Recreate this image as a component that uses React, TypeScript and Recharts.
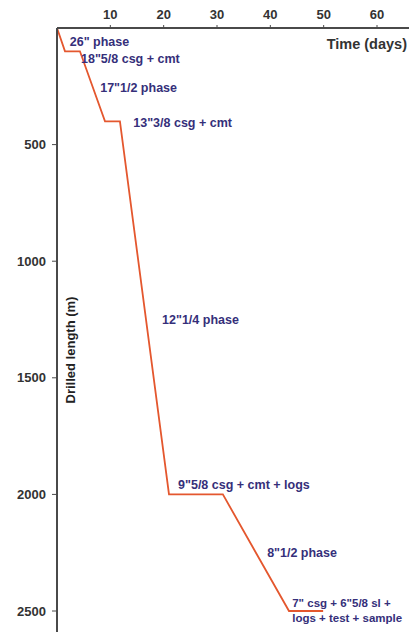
import React from 'react';
import { LineChart, Line, XAxis, YAxis, ReferenceDot } from 'recharts';

// time (days) vs drilled length (m)
const days = [0, 1.5, 4.3, 9.0, 11.8, 21.0, 31.1, 43.5, 49.9];
const depths = [0, 100, 100, 400, 400, 2000, 2000, 2500, 2500];

const dayTicks = [10, 20, 30, 40, 50, 60];
const depthTicks = [500, 1000, 1500, 2000, 2500];

// operation notes, anchored at (day, depth) of the text start
const noteTexts = [
  '26" phase',
  '18"5/8 csg + cmt',
  '17"1/2 phase',
  '13"3/8 csg + cmt',
  '12"1/4 phase',
  '9"5/8 csg + cmt + logs',
  '8"1/2 phase',
  '7" csg + 6"5/8 sl +',
  'logs + test + sample',
];
const noteDays = [2.4, 4.5, 8.1, 14.3, 19.7, 22.7, 39.4, 44.1, 44.1];
const noteDepths = [60, 133, 257, 407, 1252, 1960, 2251, 2466, 2530];

const data = days.map((t, i) => ({ t, d: depths[i] }));

const AXIS = '#4a4a4a';
const NOTE = '#352f7a';
const FONT = '"Liberation Sans", Arial, sans-serif';

const App: React.FC = () => {
  return (
    <div style={{ position: 'fixed', left: 0, top: 0, width: 409, height: 632, background: '#fff' }}>
      <LineChart width={409} height={632} data={data} margin={{ top: 0, right: 0, bottom: 0, left: 0 }}>
        <XAxis
          dataKey="t"
          type="number"
          orientation="top"
          domain={[0, 66]}
          ticks={dayTicks}
          height={28}
          allowDataOverflow
          axisLine={{ stroke: AXIS, strokeWidth: 2 }}
          tickLine={{ stroke: AXIS }}
          tickSize={3}
          tickMargin={6}
          tick={{ fill: '#333', fontSize: 13, fontWeight: 'bold', fontFamily: FONT }}
          label={{
            content: (p: any) => {
              const vb = p.viewBox;
              return (
                <text x={vb.x + vb.width - 2} y={vb.y + vb.height + 21} textAnchor="end"
                  fill="#333" fontSize={14.5} fontWeight="bold" fontFamily={FONT}>
                  Time (days)
                </text>
              );
            },
          }}
        />
        <YAxis
          dataKey="d"
          type="number"
          reversed
          domain={[0, 2590]}
          ticks={depthTicks}
          width={57}
          allowDataOverflow
          axisLine={{ stroke: AXIS, strokeWidth: 2 }}
          tickLine={{ stroke: AXIS }}
          tickSize={5}
          tickMargin={6}
          tick={{ fill: '#333', fontSize: 13, fontWeight: 'bold', fontFamily: FONT }}
          label={{
            content: (p: any) => {
              const vb = p.viewBox;
              const x = vb.x + vb.width + 18;
              const y = 350;
              return (
                <text x={x} y={y} textAnchor="middle" transform={`rotate(-90, ${x}, ${y})`}
                  fill="#222" fontSize={13} fontWeight="bold" fontFamily={FONT}>
                  Drilled length (m)
                </text>
              );
            },
          }}
        />
        <Line
          type="linear"
          dataKey="d"
          stroke="#e4572e"
          strokeWidth={1.8}
          dot={false}
          isAnimationActive={false}
        />
        {noteTexts.map((txt, i) => (
          <ReferenceDot
            key={i}
            x={noteDays[i]}
            y={noteDepths[i]}
            r={1}
            ifOverflow="visible"
            shape={(p: any) => (
              <text x={p.cx} y={p.cy} dy="0.35em" fill={NOTE}
                fontSize={i >= 7 ? 11.5 : 12.5}
                fontWeight="bold" fontFamily={FONT}>
                {txt}
              </text>
            )}
          />
        ))}
      </LineChart>
    </div>
  );
};

export default App;
